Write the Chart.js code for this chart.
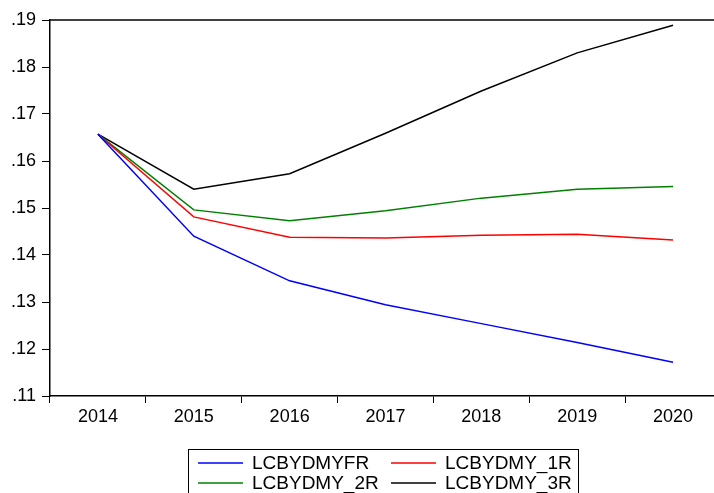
<!DOCTYPE html>
<html>
<head>
<meta charset="utf-8">
<script src="https://cdn.jsdelivr.net/npm/chart.js@4"></script>
<style>
  html, body { margin: 0; padding: 0; background: #fff; overflow: hidden; }
  #wrap { width: 714px; height: 493px; overflow: hidden; }
</style>
</head>
<body>
<div id="wrap"><canvas id="chart" width="724" height="493"></canvas></div>
<script>
const years = ['2014', '2015', '2016', '2017', '2018', '2019', '2020'];
const lcbydmyFR = [0.1657, 0.1440, 0.1345, 0.1294, 0.1254, 0.1214, 0.1172];
const lcbydmy1R = [0.1657, 0.1481, 0.1438, 0.1436, 0.1442, 0.1444, 0.1432];
const lcbydmy2R = [0.1657, 0.1496, 0.1473, 0.1494, 0.1521, 0.1540, 0.1546];
const lcbydmy3R = [0.1657, 0.1540, 0.1573, 0.1659, 0.1749, 0.1830, 0.1889];
const seriesNames = ['LCBYDMYFR', 'LCBYDMY_1R', 'LCBYDMY_2R', 'LCBYDMY_3R'];

const FONT = 'Liberation Sans, Arial, sans-serif';

function line(label, data, color) {
    return {
        label: label,
        data: data,
        borderColor: color,
        backgroundColor: color,
        borderWidth: 1.5,
        pointRadius: 0,
        tension: 0,
        fill: false
    };
}

// top edge of the plot box (the right edge falls outside the picture)
const frame = {
    id: 'frame',
    afterDraw(chart) {
        const { ctx, chartArea: a } = chart;
        ctx.save();
        ctx.strokeStyle = '#000';
        ctx.lineWidth = 1.5;
        ctx.beginPath();
        ctx.moveTo(a.left, a.top);
        ctx.lineTo(chart.width, a.top);
        ctx.stroke();
        ctx.restore();
    }
};

// two-column legend box under the chart
const boxLegend = {
    id: 'boxLegend',
    afterDraw(chart) {
        const ctx = chart.ctx;
        const left = 188, top = 449, width = 390, height = 50;
        ctx.save();
        ctx.strokeStyle = '#000';
        ctx.lineWidth = 1;
        ctx.strokeRect(left + 0.5, top + 0.5, width, height);
        ctx.font = '19px ' + FONT;
        ctx.textBaseline = 'middle';
        ctx.fillStyle = '#000';
        chart.data.datasets.forEach((ds, i) => {
            const col = i % 2, row = Math.floor(i / 2);
            const x = left + 10 + col * 193;
            const y = top + 14 + row * 20;
            ctx.strokeStyle = ds.borderColor;
            ctx.lineWidth = 1.5;
            ctx.beginPath();
            ctx.moveTo(x, y);
            ctx.lineTo(x + 45, y);
            ctx.stroke();
            ctx.fillText(ds.label, x + 54, y + 1);
        });
        ctx.restore();
    }
};

new Chart(document.getElementById('chart'), {
    type: 'line',
    data: {
        labels: years,
        datasets: [
            line(seriesNames[0], lcbydmyFR, '#0000ff'),
            line(seriesNames[1], lcbydmy1R, '#ff0000'),
            line(seriesNames[2], lcbydmy2R, '#008000'),
            line(seriesNames[3], lcbydmy3R, '#000000')
        ]
    },
    options: {
        responsive: false,
        animation: false,
        layout: { padding: { top: 20, right: 3, bottom: 57, left: 0 } },
        plugins: {
            legend: { display: false },
            tooltip: { enabled: false }
        },
        scales: {
            x: {
                type: 'category',
                offset: true,
                grid: {
                    offset: true,
                    drawOnChartArea: false,
                    drawTicks: true,
                    tickLength: 7,
                    color: '#000',
                    lineWidth: 1
                },
                border: { color: '#000', width: 1.5 },
                ticks: {
                    color: '#000',
                    font: { family: FONT, size: 18 },
                    padding: 3,
                    maxRotation: 0
                },
                afterFit(scale) { scale.height = 40; }
            },
            y: {
                min: 0.11,
                max: 0.19,
                grid: {
                    drawOnChartArea: false,
                    drawTicks: true,
                    tickLength: 8,
                    color: '#000',
                    lineWidth: 1
                },
                border: { color: '#000', width: 1.5 },
                ticks: {
                    stepSize: 0.01,
                    color: '#000',
                    font: { family: FONT, size: 18 },
                    padding: 6,
                    callback: v => Number(v).toFixed(2).slice(1)
                },
                afterFit(scale) { scale.width = 50; }
            }
        }
    },
    plugins: [frame, boxLegend]
});
</script>
</body>
</html>
